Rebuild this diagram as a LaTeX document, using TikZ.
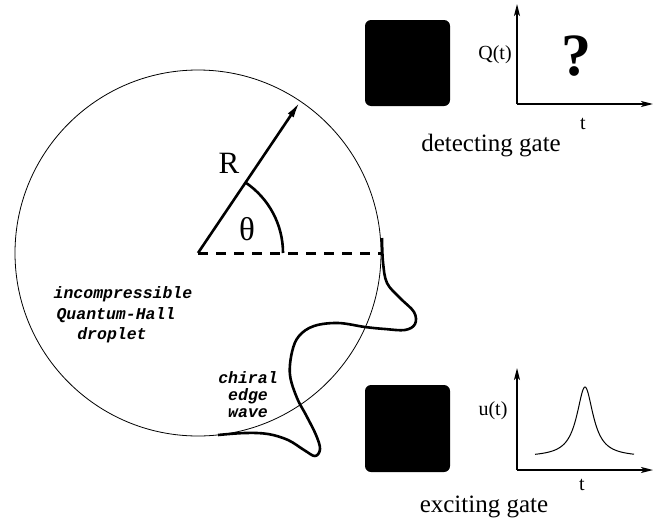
\documentclass[tikz,border=0pt]{standalone}
\usepackage{fontspec}
\setmainfont{Liberation Serif}
\newfontfamily\courfont{Liberation Mono}
\usetikzlibrary{arrows.meta}
\begin{document}
\begin{tikzpicture}[x=1pt,y=-1pt,
  thickline/.style={line width=2.6pt},
  axis/.style={line width=1.6pt,-{Stealth[length=12pt,width=6pt,inset=3pt]}},
  gatebox/.style={fill=black,rounded corners=6pt},
  mono/.style={font=\courfont\bfseries\itshape\fontsize{16.5}{17}\selectfont, inner sep=0pt},
  serif/.style={font=\fontsize{#1}{#1}\selectfont, inner sep=0pt}]
\useasboundingbox (0,0) rectangle (660,522);
% droplet
\coordinate (O) at (198,253);
\coordinate (tip) at (300.3,101.3);
\coordinate (edge) at (381,253);
\draw[line width=0.8pt] (O) circle (183);
\draw[thickline,-{Latex[length=17pt,width=7pt]}] (O) -- (tip);
\draw[thickline] (O) ++(85,0) arc (0:-56:85);
\draw[line width=3pt, dash pattern=on 10pt off 8pt] (O) -- (edge);
\node[serif=31] (Rl) at (229,163) {R};
\node[serif=33] (th) at (247,229) {θ};
% droplet text
\node[mono] (l1) at (123,294) {incompressible};
\node[mono] (l2) at (116,315) {Quantum-Hall};
\node[mono] (l3) at (112,335) {droplet};
\node[mono, align=center] (cw) at (248,395) {chiral\\edge\\wave};
% edge wave
\draw[thickline, line join=round] plot[smooth, tension=0.6] coordinates {
 (382,238) (383,262) (387,283) (400,298) (414,312) (415,324) (405,330) (385,329)
 (365,327) (338,323) (314,326) (299,336) (292,352) (290,375) (297,398) (306,415)
 (316,435) (320,449) (315,456) (304,450) (288,440) (268,434) (245,433) (218,435)};
% gates
\fill[gatebox] (365,20) rectangle (450,106);
\fill[gatebox] (365,385) rectangle (450,472);
% top axes
\coordinate (A1) at (517,104);
\draw[axis] (A1) -- (517,4);
\draw[axis] (A1) -- (653,104);
\node[serif=20] (Q) at (495,55) {Q(t)};
\node[font=\bfseries\fontsize{60}{60}\selectfont, inner sep=0pt] (qm) at (576,56) {?};
\node[serif=20] (t1) at (583,124) {t};
\node[serif=25] (dg) at (491,146) {detecting gate};
% bottom axes
\coordinate (A2) at (517,470);
\draw[axis] (A2) -- (517,368);
\draw[axis] (A2) -- (653,470);
\node[serif=20] (U) at (493,411) {u(t)};
\draw[line width=1pt] plot[domain=535:634, samples=120] (\x, {457-70/(1+((\x-585)/10)^2)});
\node[serif=20] (t2) at (582,485) {t};
\node[serif=25] (eg) at (484,507) {exciting gate};
\end{tikzpicture}
\end{document}
